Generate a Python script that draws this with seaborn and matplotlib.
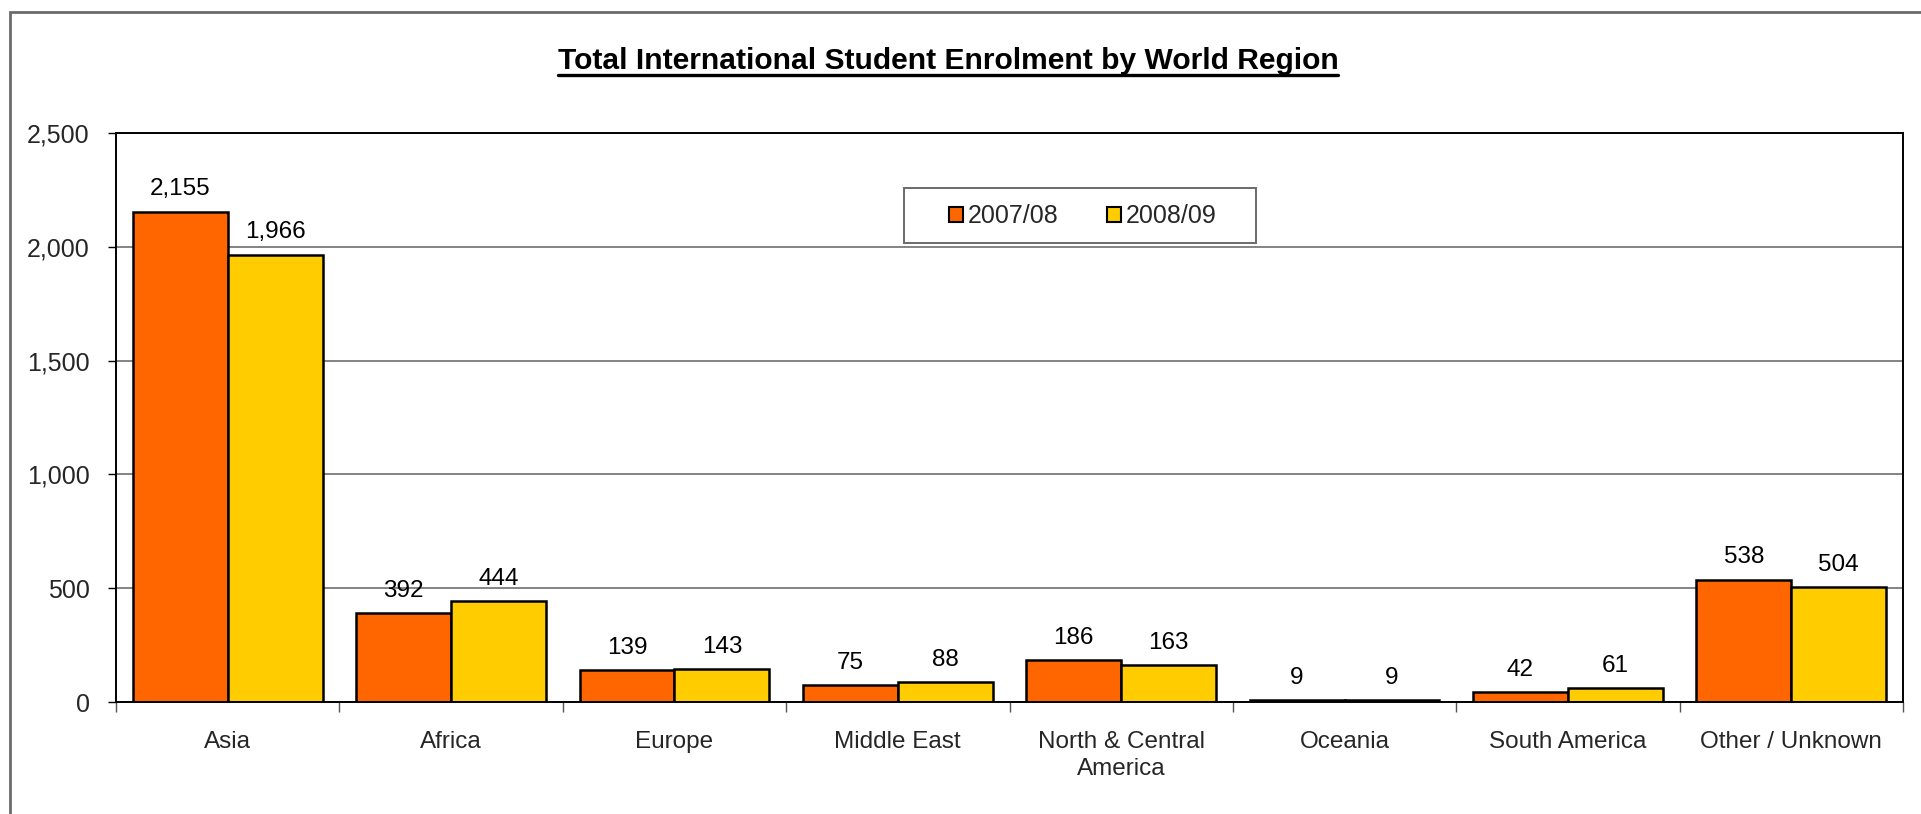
import matplotlib
matplotlib.use("Agg")
import matplotlib.pyplot as plt
from matplotlib.patches import Rectangle
from matplotlib.lines import Line2D
from matplotlib.ticker import FuncFormatter, FixedLocator
import seaborn as sns
import pandas as pd

regions = ["Asia", "Africa", "Europe", "Middle East", "North & Central\nAmerica",
           "Oceania", "South America", "Other / Unknown"]
series_names = ["2007/08", "2008/09"]
values_0708 = [2155, 392, 139, 75, 186, 9, 42, 538]
values_0809 = [1966, 444, 143, 88, 163, 9, 61, 504]
y_ticks = [0, 500, 1000, 1500, 2000, 2500]
title_text = "Total International Student Enrolment by World Region"

df = pd.DataFrame({
    "region": regions * 2,
    "year": [series_names[0]] * len(regions) + [series_names[1]] * len(regions),
    "value": values_0708 + values_0809,
})

sns.set_theme(style="white")
plt.rcParams["font.family"] = ["Liberation Sans", "DejaVu Sans"]

W, H = 1921, 814
fig = plt.figure(figsize=(W / 100, H / 100), dpi=100)
ax = fig.add_axes([116 / W, 1 - 702 / H, (1903 - 116) / W, (702 - 133) / H])

palette = {"2007/08": "#FF6600", "2008/09": "#FFCC00"}
sns.barplot(data=df, x="region", y="value", hue="year", order=regions,
            hue_order=series_names, palette=palette, width=0.85,
            edgecolor="black", linewidth=1.8, saturation=1, ax=ax, legend=True)

for cont in ax.containers:
    ax.bar_label(cont, labels=[f"{v:,.0f}" for v in cont.datavalues],
                 padding=8, fontsize=17.5, color="black")

ax.set_ylim(0, 2500)
ax.set_xlim(-0.5, len(regions) - 0.5)
ax.yaxis.set_major_locator(FixedLocator(y_ticks))
ax.yaxis.set_major_formatter(FuncFormatter(lambda v, p: f"{v:,.0f}"))
ax.grid(axis="y", color="#6e6e6e", linewidth=1.2)
ax.set_axisbelow(True)
ax.set_xlabel("")
ax.set_ylabel("")

for s in ax.spines.values():
    s.set_color("black")
    s.set_linewidth(1.4)

ax.tick_params(axis="y", which="major", direction="out", length=6, width=1,
               color="black", labelsize=18, pad=13, left=True)
ax.tick_params(axis="x", which="major", length=0, labelsize=17.5, pad=21)
ax.set_xticks([i + 0.5 for i in range(-1, len(regions))], minor=True)
ax.tick_params(axis="x", which="minor", direction="out", length=7, width=1,
               color="#555555", bottom=True)

# legend entries (frame drawn separately to match the wide box)
leg = ax.legend(loc="center", bbox_to_anchor=(0.541, 0.854), ncol=2,
                frameon=False, fontsize=18, handlelength=0.55, handleheight=0.55,
                handletextpad=0.2, columnspacing=1.95, borderpad=0.0,
                borderaxespad=0)
for h in leg.legend_handles:
    h.set_edgecolor("black")
    h.set_linewidth(1.5)
ax.add_patch(Rectangle((0.441, 0.807), 0.638 - 0.441, 0.903 - 0.807,
                       transform=ax.transAxes, fill=True, facecolor="white",
                       edgecolor="#6a6a6a", linewidth=1.4, zorder=4))
leg.set_zorder(5)

t = fig.text(0.4935, 1 - 69 / H, title_text, ha="center", va="baseline",
             fontsize=21.6, fontweight="bold", color="black")

fig.canvas.draw()
for lbl in ax.get_xticklabels():
    lbl.set_linespacing(1.3)
    lbl.set_verticalalignment("top")
bb = t.get_window_extent(renderer=fig.canvas.get_renderer())
x0, x1 = bb.x0 / fig.bbox.width, bb.x1 / fig.bbox.width
yl = 1 - 74.5 / H
fig.add_artist(Line2D([x0, x1], [yl, yl], transform=fig.transFigure,
                      color="black", linewidth=2.4))

fig.add_artist(Rectangle((10 / W, -0.05), 1.2, 1 - 12 / H + 0.05,
                         transform=fig.transFigure, fill=False,
                         edgecolor="#6b6b6b", linewidth=2))

fig.savefig("out.png", dpi=100)
